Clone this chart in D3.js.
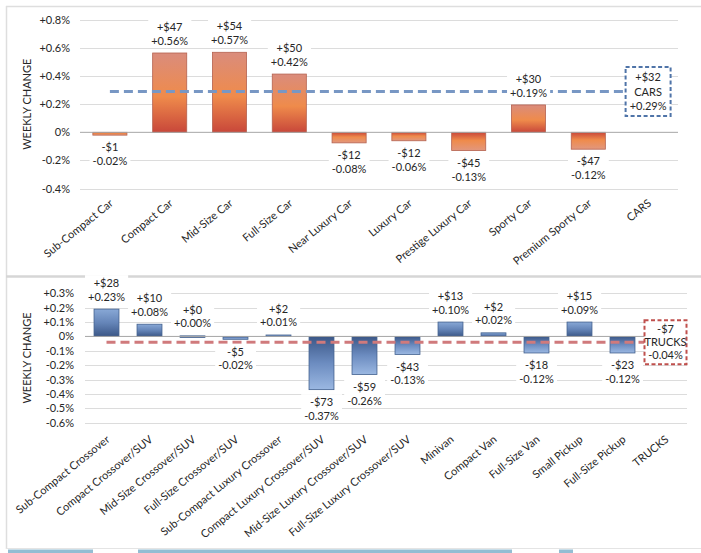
<!DOCTYPE html>
<html>
<head>
<meta charset="utf-8">
<script src="https://cdn.jsdelivr.net/npm/d3@7"></script>
<style>
  html, body { margin: 0; padding: 0; background: #fff; }
  svg { display: block; font-family: Lato, "Open Sans", sans-serif; }
</style>
</head>
<body>
<svg id="chart" width="701" height="553"></svg>
<script>
// cars panel
const carCategories = ['Sub-Compact Car', 'Compact Car', 'Mid-Size Car', 'Full-Size Car', 'Near Luxury Car',
    'Luxury Car', 'Prestige Luxury Car', 'Sporty Car', 'Premium Sporty Car'];
const carBarValues = [-0.02, 0.565, 0.57, 0.415, -0.075, -0.06, -0.13, 0.195, -0.12];
const carDollarLabels = ['-$1', '+$47', '+$54', '+$50', '-$12', '-$12', '-$45', '+$30', '-$47'];
const carPctLabels = ['-0.02%', '+0.56%', '+0.57%', '+0.42%', '-0.08%', '-0.06%', '-0.13%', '+0.19%', '-0.12%'];
const carTotalName = 'CARS';
const carTotalValue = 0.29;
const carTotalLabels = ['+$32', 'CARS', '+0.29%'];
const carTicks = [-0.4, -0.2, 0, 0.2, 0.4, 0.6, 0.8];
const carTickLabels = ['-0.4%', '-0.2%', '0%', '+0.2%', '+0.4%', '+0.6%', '+0.8%'];

// trucks panel
const truckCategories = ['Sub-Compact Crossover', 'Compact Crossover/SUV', 'Mid-Size Crossover/SUV',
    'Full-Size Crossover/SUV', 'Sub-Compact Luxury Crossover', 'Compact Luxury Crossover/SUV',
    'Mid-Size Luxury Crossover/SUV', 'Full-Size Luxury Crossover/SUV', 'Minivan', 'Compact Van',
    'Full-Size Van', 'Small Pickup', 'Full-Size Pickup'];
const truckBarValues = [0.19, 0.085, 0.004, -0.02, 0.01, -0.37, -0.265, -0.125, 0.1, 0.025, -0.115, 0.1, -0.115];
const truckDollarLabels = ['+$28', '+$10', '+$0', '-$5', '+$2', '-$73', '-$59', '-$43', '+$13', '+$2', '-$18', '+$15', '-$23'];
const truckPctLabels = ['+0.23%', '+0.08%', '+0.00%', '-0.02%', '+0.01%', '-0.37%', '-0.26%', '-0.13%',
    '+0.10%', '+0.02%', '-0.12%', '+0.09%', '-0.12%'];
const truckTotalName = 'TRUCKS';
const truckTotalValue = -0.04;
const truckTotalLabels = ['-$7', 'TRUCKS', '-0.04%'];
const truckTicks = [-0.6, -0.5, -0.4, -0.3, -0.2, -0.1, 0, 0.1, 0.2, 0.3];
const truckTickLabels = ['-0.6%', '-0.5%', '-0.4%', '-0.3%', '-0.2%', '-0.1%', '0%', '+0.1%', '+0.2%', '+0.3%'];

const svg = d3.select('#chart');
const defs = svg.append('defs');
const textColor = '#262626';

const addGradient = (id, stops) => {
    const grad = defs.append('linearGradient')
        .attr('id', id)
        .attr('x1', 0).attr('y1', 0)
        .attr('x2', 0).attr('y2', 1);
    stops.forEach(([offset, color]) => {
        grad.append('stop').attr('offset', offset).attr('stop-color', color);
    });
};

// dark end always sits on the zero line
addGradient('carUp', [[0, '#da8c7c'], [0.55, '#ef8b4b'], [1, '#c8473a']]);
addGradient('carDown', [[0, '#c8473a'], [0.45, '#ef8b4b'], [1, '#e2977e']]);
addGradient('truckUp', [[0, '#88a8d6'], [0.5, '#6585b8'], [1, '#3b5787']]);
addGradient('truckDown', [[0, '#3b5787'], [0.5, '#6c8cc0'], [1, '#9bb8e2']]);

// page frame
svg.append('line').attr('x1', 6).attr('x2', 701).attr('y1', 6.5).attr('y2', 6.5)
    .attr('stroke', '#dedede').attr('stroke-width', 1.5);
svg.append('line').attr('x1', 6.5).attr('x2', 6.5).attr('y1', 6).attr('y2', 549)
    .attr('stroke', '#dedede').attr('stroke-width', 1.5);
svg.append('line').attr('x1', 6).attr('x2', 701).attr('y1', 276.5).attr('y2', 276.5)
    .attr('stroke', '#d6d6d6').attr('stroke-width', 2.5);
svg.append('line').attr('x1', 6).attr('x2', 701).attr('y1', 548.5).attr('y2', 548.5)
    .attr('stroke', '#e4e4e4').attr('stroke-width', 1);
[[8, 93], [138, 512], [559, 573]].forEach(([a, b]) => {
    svg.append('rect').attr('x', a).attr('y', 549.5).attr('width', b - a).attr('height', 4)
        .attr('fill', '#93bdd3');
});

const drawLines = (g, x, yCenter, lines, lineH) => {
    const group = g.append('g');
    const top = yCenter - (lines.length - 1) * lineH / 2;
    lines.forEach((t, i) => {
        group.append('text')
            .attr('x', x)
            .attr('y', top + i * lineH + 4)
            .attr('text-anchor', 'middle')
            .attr('font-size', 11)
            .attr('fill', textColor)
            .text(t);
    });
    return group;
};

const whiteBehind = (group, pad) => {
    const b = group.node().getBBox();
    group.insert('rect', ':first-child')
        .attr('x', b.x - pad)
        .attr('y', b.y - 1)
        .attr('width', b.width + pad * 2)
        .attr('height', b.height + 2)
        .attr('fill', '#fff');
};

const drawPanel = (opt) => {
    const g = svg.append('g');
    const names = opt.categories.concat([opt.totalName]);

    const x = d3.scaleBand()
        .domain(names)
        .range(opt.xRange)
        .paddingInner(opt.pad)
        .paddingOuter(opt.pad / 2);
    const y = d3.scaleLinear()
        .domain(d3.extent(opt.ticks))
        .range(opt.yRange);

    // gridlines
    g.append('g')
        .selectAll('line')
        .data(opt.ticks.filter(t => t !== 0))
        .join('line')
        .attr('x1', opt.xRange[0])
        .attr('x2', opt.xRange[1])
        .attr('y1', d => Math.round(y(d)) + 0.5)
        .attr('y2', d => Math.round(y(d)) + 0.5)
        .attr('stroke', '#dcdcdc')
        .attr('stroke-width', 1);

    // y axis labels
    const yAxis = d3.axisLeft(y)
        .tickValues(opt.ticks)
        .tickFormat((d, i) => opt.tickLabels[i])
        .tickSize(0)
        .tickPadding(0);
    const ya = g.append('g')
        .attr('transform', `translate(${opt.labelRight},0)`)
        .call(yAxis);
    ya.select('.domain').remove();
    ya.selectAll('text')
        .attr('font-family', 'Lato, "Open Sans", sans-serif')
        .attr('font-size', 11)
        .attr('fill', textColor);

    g.append('text')
        .attr('transform', `translate(31,${(opt.yRange[0] + opt.yRange[1]) / 2}) rotate(-90)`)
        .attr('text-anchor', 'middle')
        .attr('font-size', 11)
        .attr('fill', textColor)
        .text('WEEKLY CHANGE');

    // bars
    const bw = x.bandwidth();
    g.append('g')
        .selectAll('rect')
        .data(opt.values)
        .join('rect')
        .attr('x', (d, i) => x(opt.categories[i]))
        .attr('y', d => y(Math.max(0, d)))
        .attr('width', bw)
        .attr('height', d => Math.max(1.5, Math.abs(y(d) - y(0))))
        .attr('fill', d => `url(#${d >= 0 ? opt.gradUp : opt.gradDown})`)
        .attr('stroke', opt.barStroke)
        .attr('stroke-width', 0.8);

    // zero line
    g.append('line')
        .attr('x1', opt.xRange[0])
        .attr('x2', opt.xRange[1])
        .attr('y1', y(0))
        .attr('y2', y(0))
        .attr('stroke', '#a6a6a6')
        .attr('stroke-width', 1);

    // average dashed line
    const cx = d => x(d) + bw / 2;
    const totalX = cx(opt.totalName);
    g.append('line')
        .attr('x1', cx(opt.categories[0]))
        .attr('x2', totalX - opt.boxW / 2)
        .attr('y1', y(opt.totalValue))
        .attr('y2', y(opt.totalValue))
        .attr('stroke', opt.lineColor)
        .attr('stroke-width', 3)
        .attr('stroke-dasharray', '9,5');

    // value labels
    opt.values.forEach((v, i) => {
        const lines = [opt.dollars[i], opt.pcts[i]];
        const up = v >= 0;
        const center = up
            ? y(v) - opt.gap - opt.lineH / 2
            : y(v) + opt.gap + opt.lineH / 2;
        const grp = drawLines(g, cx(opt.categories[i]), center, lines, opt.lineH);
        whiteBehind(grp, 3);
    });

    // total box
    const boxY = y(opt.totalValue);
    g.append('rect')
        .attr('x', totalX - opt.boxW / 2)
        .attr('y', boxY - opt.boxH / 2)
        .attr('width', opt.boxW)
        .attr('height', opt.boxH)
        .attr('fill', '#fff')
        .attr('stroke', opt.boxColor)
        .attr('stroke-width', 2)
        .attr('stroke-dasharray', '4,2.5');
    drawLines(g, totalX, boxY, opt.totalLabels, opt.boxLineH);

    // category labels
    names.forEach(n => {
        g.append('text')
            .attr('transform', `translate(${cx(n) + 4},${opt.yRange[0] + opt.catGap}) rotate(-39)`)
            .attr('text-anchor', 'end')
            .attr('font-size', 11)
            .attr('fill', textColor)
            .text(n);
    });
};

drawPanel({
    categories: carCategories,
    values: carBarValues,
    dollars: carDollarLabels,
    pcts: carPctLabels,
    totalName: carTotalName,
    totalValue: carTotalValue,
    totalLabels: carTotalLabels,
    ticks: carTicks,
    tickLabels: carTickLabels,
    xRange: [80, 678],
    yRange: [188.5, 20],
    labelRight: 70,
    pad: 0.43,
    gap: 12,
    lineH: 14,
    boxW: 45,
    boxH: 49,
    boxLineH: 14.5,
    catGap: 16,
    gradUp: 'carUp',
    gradDown: 'carDown',
    barStroke: '#b5624f',
    lineColor: '#7897c4',
    boxColor: '#4f74a8'
});

drawPanel({
    categories: truckCategories,
    values: truckBarValues,
    dollars: truckDollarLabels,
    pcts: truckPctLabels,
    totalName: truckTotalName,
    totalValue: truckTotalValue,
    totalLabels: truckTotalLabels,
    ticks: truckTicks,
    tickLabels: truckTickLabels,
    xRange: [85, 687],
    yRange: [422.7, 293.3],
    labelRight: 74,
    pad: 0.42,
    gap: 12.5,
    lineH: 13.5,
    boxW: 42,
    boxH: 44,
    boxLineH: 13,
    catGap: 18,
    gradUp: 'truckUp',
    gradDown: 'truckDown',
    barStroke: '#41608e',
    lineColor: '#d07a7c',
    boxColor: '#c0504d'
});
</script>
</body>
</html>
